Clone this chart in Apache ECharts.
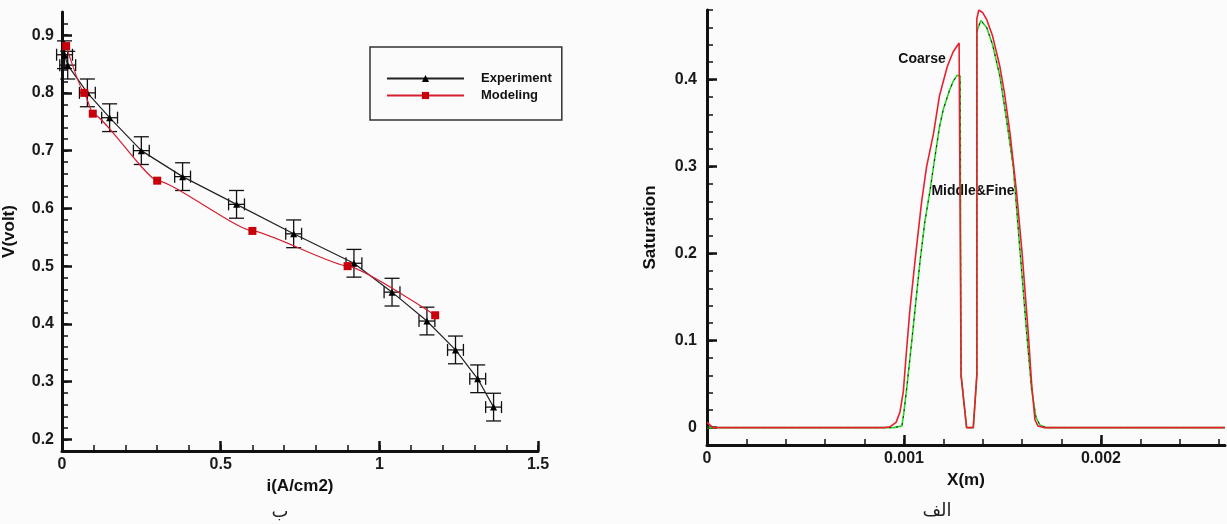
<!DOCTYPE html>
<html lang="en">
<head>
    <meta charset="UTF-8">
    <title>Polarization curve and saturation</title>
    <script src="https://cdn.jsdelivr.net/npm/echarts@6/dist/echarts.min.js"></script>
    <style>
        html, body { margin: 0; padding: 0; background: #fbfbfb; }
        #chart { width: 1227px; height: 524px; }
    </style>
</head>
<body>
<div id="chart"></div>
<script type="text/javascript">
    // left chart (ب): polarization curve
    const expI = [0.008, 0.018, 0.08, 0.15, 0.25, 0.38, 0.55, 0.73, 0.92, 1.04, 1.15, 1.24, 1.31, 1.36];
    const expV = [0.866, 0.848, 0.80, 0.757, 0.70, 0.655, 0.607, 0.556, 0.505, 0.455, 0.405, 0.355, 0.305, 0.256];
    const errI = [0.025, 0.025, 0.025, 0.025, 0.025, 0.025, 0.025, 0.025, 0.025, 0.025, 0.025, 0.025, 0.025, 0.025];
    const errV = [0.024, 0.024, 0.024, 0.024, 0.024, 0.024, 0.024, 0.024, 0.024, 0.024, 0.024, 0.024, 0.024, 0.024];
    const modI = [0.013, 0.07, 0.097, 0.30, 0.60, 0.90, 1.176];
    const modV = [0.881, 0.80, 0.764, 0.648, 0.561, 0.50, 0.415];

    const leftXTicks = [0, 0.5, 1, 1.5];
    const leftYTicks = [0.2, 0.3, 0.4, 0.5, 0.6, 0.7, 0.8, 0.9];

    // right chart (الف): saturation along X
    const coarseX = [0, 0.00003, 0.0009, 0.00093, 0.00096, 0.00098, 0.000997, 0.00101, 0.00103, 0.00106, 0.00109,
        0.001115, 0.00115, 0.00118, 0.00122, 0.00125, 0.00128, 0.00129, 0.00129, 0.001318, 0.001352, 0.00137,
        0.00137, 0.00138, 0.0014, 0.00142, 0.00145, 0.001487, 0.00151, 0.001538, 0.001572, 0.0016, 0.001631,
        0.001648, 0.001665, 0.00168, 0.00171, 0.00263];
    const coarseY = [0.006, 0, 0, 0.001, 0.006, 0.018, 0.042, 0.08, 0.135, 0.2, 0.26,
        0.30, 0.338, 0.381, 0.415, 0.432, 0.442, 0.44, 0.06, 0, 0, 0.06,
        0.47, 0.48, 0.477, 0.469, 0.45, 0.415, 0.385, 0.339, 0.27, 0.2, 0.109,
        0.051, 0.009, 0.002, 0, 0];
    const middleX = [0, 0.00095, 0.00099, 0.001, 0.001014, 0.00104, 0.001081, 0.001105, 0.001132, 0.00115, 0.00118,
        0.0012, 0.00123, 0.00125, 0.00127, 0.001285, 0.00129, 0.001318, 0.001352, 0.00137, 0.00137, 0.00139,
        0.00142, 0.00145, 0.001487, 0.00152, 0.001555, 0.00159, 0.001623, 0.001648, 0.00167, 0.00169, 0.00172, 0.00263];
    const middleY = [0, 0, 0.002, 0.018, 0.045, 0.1, 0.19, 0.235, 0.272, 0.30, 0.345,
        0.366, 0.387, 0.398, 0.405, 0.404, 0.06, 0, 0, 0.06, 0.455, 0.468,
        0.46, 0.44, 0.404, 0.355, 0.30, 0.201, 0.109, 0.044, 0.012, 0.003, 0, 0];

    const rightXTicks = [0, 0.001, 0.002];
    const rightYTicks = [0, 0.1, 0.2, 0.3, 0.4];

    function minorValues(from, to, step) {
        let out = [];
        for (let k = 0; from + k * step <= to + step / 1000; k++) {
            out.push(Math.round((from + k * step) * 1e7) / 1e7);
        }
        return out;
    }

    function zip(a, b) {
        return a.map((v, k) => [v, b[k]]);
    }

    const ink = '#111';
    const labelFont = {color: '#1a1a1a', fontSize: 16, fontWeight: 'bold', fontFamily: 'Liberation Sans'};
    const nameFont = {color: '#111', fontSize: 17, fontWeight: 'bold', fontFamily: 'Liberation Sans'};

    function mainAxis(grid, min, max, ticks, extra) {
        return Object.assign({
            type: 'value', gridIndex: grid, min: min, max: max,
            axisLine: {show: true, onZero: false, lineStyle: {color: ink, width: 3}},
            axisTick: {show: true, inside: true, length: 10, customValues: ticks, lineStyle: {color: ink, width: 2.5}},
            axisLabel: Object.assign({customValues: ticks}, labelFont),
            splitLine: {show: false},
            nameTextStyle: nameFont,
            nameLocation: 'middle'
        }, extra);
    }

    // second axis on the same side, only for the short ticks
    function minorAxis(grid, min, max, ticks, side) {
        return {
            type: 'value', gridIndex: grid, min: min, max: max,
            position: side,
            axisLine: {show: false, onZero: false},
            axisTick: {show: true, inside: true, length: 6, customValues: ticks, lineStyle: {color: ink, width: 1.5}},
            axisLabel: {show: false},
            splitLine: {show: false}
        };
    }

    function renderErrorBar(params, api) {
        let i = api.value(0), v = api.value(1), di = api.value(2), dv = api.value(3);
        let top = api.coord([i, v + dv]);
        let bottom = api.coord([i, v - dv]);
        let left = api.coord([i - di, v]);
        let right = api.coord([i + di, v]);
        let style = {stroke: '#111', lineWidth: 1.3};
        let seg = (x1, y1, x2, y2) => ({type: 'line', shape: {x1: x1, y1: y1, x2: x2, y2: y2}, style: style});
        return {
            type: 'group',
            children: [
                seg(top[0], top[1], bottom[0], bottom[1]),
                seg(top[0] - 7.5, top[1], top[0] + 7.5, top[1]),
                seg(bottom[0] - 7.5, bottom[1], bottom[0] + 7.5, bottom[1]),
                seg(left[0], left[1], right[0], right[1]),
                seg(left[0], left[1] - 6, left[0], left[1] + 6),
                seg(right[0], right[1] - 6, right[0], right[1] + 6)
            ]
        };
    }

    let myChart = echarts.init(document.getElementById('chart'));

    let option = {
        backgroundColor: '#fbfbfb',
        animation: false,
        grid: [
            {left: 62, right: 689, top: 12, bottom: 73},
            {left: 707, right: 2, top: 10, bottom: 79}
        ],
        xAxis: [
            mainAxis(0, 0, 1.5, leftXTicks, {position: 'bottom', name: 'i(A/cm2)', nameGap: 22, axisLabel: Object.assign({customValues: leftXTicks, margin: 6}, labelFont)}),
            minorAxis(0, 0, 1.5, minorValues(0, 1.5, 0.1), 'bottom'),
            mainAxis(1, 0, 0.00263, rightXTicks, {position: 'bottom', name: 'X(m)', nameGap: 21, axisLabel: Object.assign({customValues: rightXTicks, margin: 6}, labelFont)}),
            minorAxis(1, 0, 0.00263, minorValues(0, 0.0026, 0.0002), 'bottom')
        ],
        yAxis: [
            mainAxis(0, 0.18, 0.94, leftYTicks, {position: 'left', name: 'V(volt)', nameGap: 44, axisLabel: Object.assign({customValues: leftYTicks, margin: 8}, labelFont)}),
            minorAxis(0, 0.18, 0.94, minorValues(0.2, 0.92, 0.02), 'left'),
            mainAxis(1, -0.02, 0.48, rightYTicks, {position: 'left', name: 'Saturation', nameGap: 48, axisLabel: Object.assign({customValues: rightYTicks, margin: 10}, labelFont)}),
            minorAxis(1, -0.02, 0.48, minorValues(-0.02, 0.48, 0.02), 'left')
        ],
        legend: {
            data: ['Experiment', 'Modeling'],
            orient: 'vertical',
            left: 370,
            top: 47,
            padding: [25, 10, 18, 16],
            itemGap: 4,
            itemWidth: 77,
            itemHeight: 9,
            borderColor: '#333',
            borderWidth: 1.5,
            textStyle: {color: '#111', fontSize: 13, fontWeight: 'bold', fontFamily: 'Liberation Sans', padding: [0, 0, 0, 12]}
        },
        graphic: [
            {type: 'text', x: 922, y: 59, style: {text: 'Coarse', font: 'bold 14px "Liberation Sans"', fill: '#111', align: 'center', verticalAlign: 'middle'}},
            {type: 'text', x: 973, y: 191, style: {text: 'Middle&Fine', font: 'bold 14px "Liberation Sans"', fill: '#111', align: 'center', verticalAlign: 'middle'}},
            {type: 'text', x: 280, y: 512, style: {text: 'ب', font: '18px "DejaVu Sans"', fill: '#222', align: 'center', verticalAlign: 'middle'}},
            {type: 'text', x: 937, y: 511, style: {text: 'الف', font: '18px "DejaVu Sans"', fill: '#222', align: 'center', verticalAlign: 'middle'}}
        ],
        series: [
            {
                name: 'Error',
                type: 'custom',
                xAxisIndex: 0, yAxisIndex: 0,
                renderItem: renderErrorBar,
                encode: {x: 0, y: 1},
                data: expI.map((v, k) => [v, expV[k], errI[k], errV[k]]),
                z: 2
            },
            {
                name: 'Experiment',
                type: 'line',
                xAxisIndex: 0, yAxisIndex: 0,
                data: zip(expI, expV),
                symbol: 'triangle',
                symbolSize: 7,
                itemStyle: {color: '#000'},
                lineStyle: {color: '#222', width: 1.2},
                z: 3
            },
            {
                name: 'Modeling',
                type: 'line',
                xAxisIndex: 0, yAxisIndex: 0,
                data: zip(modI, modV),
                smooth: 0.15,
                smoothMonotone: 'x',
                symbol: 'rect',
                symbolSize: 8,
                itemStyle: {color: '#c8000a'},
                lineStyle: {color: '#d42030', width: 1.2},
                z: 4
            },
            {
                name: 'Middle',
                type: 'line',
                xAxisIndex: 2, yAxisIndex: 2,
                data: zip(middleX, middleY),
                showSymbol: false,
                lineStyle: {color: '#2bd42b', width: 1.6}
            },
            {
                name: 'Fine',
                type: 'line',
                xAxisIndex: 2, yAxisIndex: 2,
                data: zip(middleX, middleY),
                showSymbol: false,
                lineStyle: {color: '#1a1a1a', width: 1, type: [2, 5]}
            },
            {
                name: 'Coarse',
                type: 'line',
                xAxisIndex: 2, yAxisIndex: 2,
                data: zip(coarseX, coarseY),
                showSymbol: false,
                lineStyle: {color: '#e8202e', width: 1.6}
            }
        ]
    };

    myChart.setOption(option);
</script>
</body>
</html>
